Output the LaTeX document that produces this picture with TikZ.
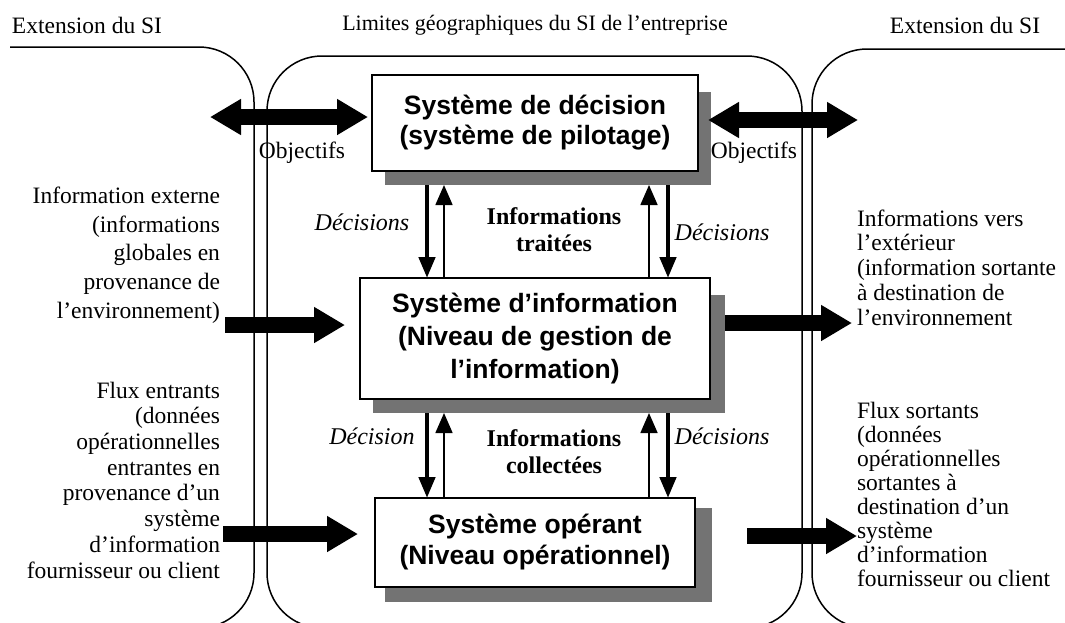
\documentclass[tikz,border=0pt]{standalone}
\usepackage{fontspec}
\setmainfont{Liberation Serif}
\newfontfamily\sysfont{Liberation Sans}
\usetikzlibrary{arrows.meta,calc}
\begin{document}
\begin{tikzpicture}[x=1pt,y=-1pt,
  every node/.style={inner sep=0pt,outer sep=0pt},
  header/.style={font=\fontsize{23.5}{28}\selectfont},
  lefttext/.style={align=right,anchor=east,font=\fontsize{23.5}{#1}\selectfont},
  righttext/.style={align=left,anchor=west,font=\fontsize{23.5}{#1}\selectfont},
  sysbox/.style={draw,line width=2pt,fill=white,align=center,
    font=\sysfont\bfseries\fontsize{26.5}{#1}\selectfont},
  dropshade/.style={fill=black!55},
  limit/.style={line width=1.5pt,rounded corners=55pt},
  flow/.style={line width=16pt,-{Triangle[length=31pt,width=34pt]}},
  exchange/.style={line width=16pt,
    {Triangle[length=31pt,width=34pt]}-{Triangle[length=31pt,width=34pt]}},
  order/.style={line width=4.5pt,-{Triangle[length=21pt,width=16pt]}},
  feedback/.style={line width=1.6pt,-{Triangle[length=20pt,width=17pt]}},
  tag/.style={font=\itshape\fontsize{24}{28}\selectfont},
  infotag/.style={align=center,font=\bfseries\fontsize{24}{27}\selectfont},
]
\useasboundingbox (0,0) rectangle (1065,622);

% limits of the three information systems
\begin{scope}
  \clip (0,0) rectangle (1065,622);
  \draw[limit] (10,47) -- (254,47) -- (254,628) -- (150,628);
  \draw[limit] (400,628) -- (267,628) -- (267,56) -- (802,56) -- (802,628) -- (700,628);
  \draw[limit] (1065,49) -- (812,49) -- (812,628) -- (920,628);
\end{scope}

% headings
\node[header] (hl) at (87,25) {Extension du SI};
\node[header,font=\fontsize{22}{26}\selectfont] (hc) at (535,25)
  {Limites géographiques du SI de l’entreprise};
\node[header] (hr) at (965,25) {Extension du SI};

% the three subsystems with their drop shadows
\node[dropshade,minimum width=326,minimum height=93] (s1) at (548,138.5) {};
\node[sysbox=30,minimum width=326,minimum height=96] (b1) at (535,123)
  {Système de décision\\(système de pilotage)};
\node[dropshade,minimum width=352,minimum height=118] (s2) at (549,354) {};
\node[sysbox=33,minimum width=350,minimum height=121] (b2) at (535,338.5)
  {Système d’information\\(Niveau de gestion de\\l’information)};
\node[dropshade,minimum width=327,minimum height=94] (s3) at (548.5,555) {};
\node[sysbox=31,minimum width=320,minimum height=89] (b3) at (535,542.5)
  {Système opérant\\(Niveau opérationnel)};

% side texts
\node[lefttext=28.75] (ext) at (220,255)
  {Information externe\\(informations\\globales en\\provenance de\\l’environnement)};
\node[lefttext=25.7] (fin) at (220,480)
  {Flux entrants\\(données\\opérationnelles\\entrantes en\\provenance d’un\\système\\d’information\\fournisseur ou client};
\node[righttext=24.75] (out) at (857,267.5)
  {Informations vers\\l’extérieur\\(information sortante\\à destination de\\l’environnement};
\node[righttext=24] (fout) at (857,494)
  {Flux sortants\\(données\\opérationnelles\\sortantes à\\destination d’un\\système\\d’information\\fournisseur ou client};

% labels
\node[header] (objl) at (302,153) {Objectifs};
\node[header] (objr) at (754,153) {Objectifs};
\node[tag] (dec1) at (362,222) {Décisions};
\node[tag] (dec2) at (722,232) {Décisions};
\node[infotag] (it) at (554,230) {Informations\\traitées};
\node[tag] (dec3) at (372,436) {Décision};
\node[tag] (dec4) at (722,436) {Décisions};
\node[infotag] (ic) at (554,452) {Informations\\collectées};

% exchanges with the outside
\coordinate (xl) at (210,117);
\coordinate (xr) at (858,120);
\draw[exchange] (xl) -- ($(b1.west |- xl)+(-4,0)$);
\draw[exchange] ($(s1.east |- xr)+(-3,0)$) -- (xr);

\coordinate (inL) at (225,325);
\coordinate (outR) at (852,323);
\draw[flow] (inL) -- ($(b2.west |- inL)+(-15,0)$);
\draw[flow] (s2.east |- outR) -- (outR);

\coordinate (fluxL) at (223,534);
\coordinate (fluxR0) at (747,536);
\coordinate (fluxR) at (857,536);
\draw[flow] (fluxL) -- ($(b3.west |- fluxL)+(-17,0)$);
\draw[flow] (fluxR0) -- (fluxR);

% vertical flows between the subsystems
\coordinate (xa) at (427,0);
\coordinate (xb) at (444,0);
\coordinate (xc) at (649,0);
\coordinate (xd) at (668,0);
\draw[order] (xa |- s1.south) -- (xa |- b2.north);
\draw[feedback] (xb |- b2.north) -- (xb |- s1.south);
\draw[feedback] (xc |- b2.north) -- (xc |- s1.south);
\draw[order] (xd |- s1.south) -- (xd |- b2.north);

\draw[order] (xa |- s2.south) -- (xa |- b3.north);
\draw[feedback] (xb |- b3.north) -- (xb |- s2.south);
\draw[feedback] (xc |- b3.north) -- (xc |- s2.south);
\draw[order] (xd |- s2.south) -- (xd |- b3.north);
\end{tikzpicture}
\end{document}
